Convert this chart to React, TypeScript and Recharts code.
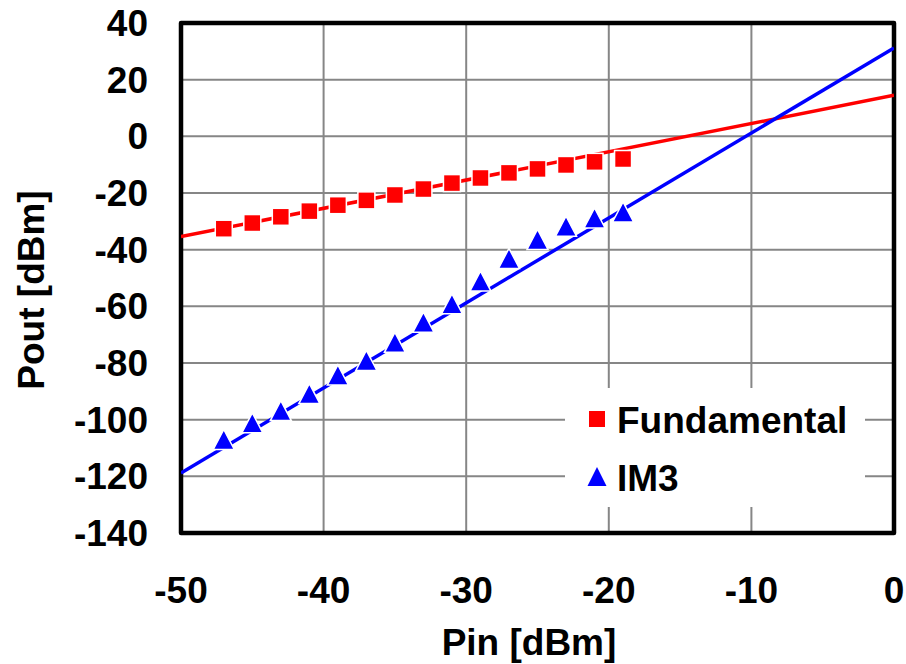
import React from 'react';
import {
  ScatterChart,
  Scatter,
  XAxis,
  YAxis,
  CartesianGrid,
  ReferenceArea,
  Legend,
  Label,
} from 'recharts';

// ---- data ----
const pinValues = [-47, -45, -43, -41, -39, -37, -35, -33, -31, -29, -27, -25, -23, -21, -19];
const fundamentalValues = [-32.6, -30.6, -28.4, -26.4, -24.3, -22.6, -20.7, -18.6, -16.5, -14.7, -12.9, -11.5, -10.1, -9.0, -8.0];
const im3Values = [-107.0, -101.1, -96.8, -90.8, -84.2, -79.1, -72.7, -65.6, -59.1, -51.1, -43.1, -36.4, -31.7, -28.8, -26.7];

const trendX = [-50, 0];
const fundamentalTrend = [-35.4, 14.5];
const im3Trend = [-118.8, 31.2];

const xTicks = [-50, -40, -30, -20, -10, 0];
const yTicks = [-140, -120, -100, -80, -60, -40, -20, 0, 20, 40];

const fundamentalData = pinValues.map((x, i) => ({ x, y: fundamentalValues[i] }));
const im3Data = pinValues.map((x, i) => ({ x, y: im3Values[i] }));
const fundamentalTrendData = trendX.map((x, i) => ({ x, y: fundamentalTrend[i] }));
const im3TrendData = trendX.map((x, i) => ({ x, y: im3Trend[i] }));

const FONT = '"Liberation Sans", Arial, sans-serif';
const RED = '#ff0000';
const BLUE = '#0000ff';

const SquareMarker = (props: any) => {
  const { cx, cy } = props;
  if (cx == null || cy == null) return <g />;
  const s = 17;
  return <rect x={cx - s / 2} y={cy - s / 2} width={s} height={s} fill={RED} stroke="#ffffff" strokeWidth={1.5} />;
};

const TriangleMarker = (props: any) => {
  const { cx, cy } = props;
  if (cx == null || cy == null) return <g />;
  const hw = 10.5;
  const hh = 10;
  return (
    <polygon
      points={`${cx},${cy - hh} ${cx - hw},${cy + hh} ${cx + hw},${cy + hh}`}
      fill={BLUE}
      stroke="#ffffff"
      strokeWidth={1.5}
    />
  );
};

const NoMarker = () => <g />;

const LegendContent = (props: any) => {
  const payload = (props.payload || []).filter((p: any) => p.type !== 'none');
  return (
    <svg width={300} height={119} style={{ display: 'block' }}>
      <rect x={0} y={0} width={300} height={119} fill="#ffffff" />
      {payload.map((p: any, i: number) => {
        const baseY = 45 + i * 58;
        const cy = baseY - 14;
        return (
          <g key={i}>
            {p.type === 'triangle' ? (
              <polygon points={`32,${cy - 10} 22.5,${cy + 9} 41.5,${cy + 9}`} fill={p.color} />
            ) : (
              <rect x={24} y={cy - 8} width={16} height={16} fill={p.color} />
            )}
            <text x={52} y={baseY} fontFamily={FONT} fontWeight="bold" fontSize={37} fill="#000">
              {p.value}
            </text>
          </g>
        );
      })}
    </svg>
  );
};

const tickStyle = { fontFamily: FONT, fontWeight: 'bold', fontSize: 37, fill: '#000' } as any;

export default function App() {
  return (
    <div style={{ position: 'absolute', left: 0, top: 0, width: 906, height: 664, background: '#fff' }}>
      <ScatterChart width={906} height={664} margin={{ top: 23, right: 12, bottom: 0, left: 0 }}>
        <CartesianGrid stroke="#868686" strokeWidth={2} />
        <XAxis
          type="number"
          dataKey="x"
          domain={[-50, 0]}
          ticks={xTicks}
          allowDataOverflow
          height={131}
          axisLine={false}
          tickLine={false}
          tickSize={0}
          tickMargin={44}
          tick={tickStyle}
          interval={0}
        >
          <Label
            content={() => (
              <text x={529} y={655} textAnchor="middle" fontFamily={FONT} fontWeight="bold" fontSize={37} fill="#000">
                Pin [dBm]
              </text>
            )}
          />
        </XAxis>
        <YAxis
          type="number"
          dataKey="y"
          domain={[-140, 40]}
          ticks={yTicks}
          allowDataOverflow
          width={181}
          axisLine={false}
          tickLine={false}
          tickSize={0}
          tickMargin={33}
          tick={tickStyle}
          interval={0}
        >
          <Label
            content={() => (
              <text
                x={44}
                y={290}
                transform="rotate(-90 44 290)"
                textAnchor="middle"
                fontFamily={FONT}
                fontWeight="bold"
                fontSize={37}
                fill="#000"
              >
                Pout [dBm]
              </text>
            )}
          />
        </YAxis>
        <Scatter
          name="Fundamental trend"
          data={fundamentalTrendData}
          line={{ stroke: RED, strokeWidth: 3.5 }}
          lineType="joint"
          shape={NoMarker}
          legendType="none"
          fill={RED}
          isAnimationActive={false}
        />
        <Scatter
          name="IM3 trend"
          data={im3TrendData}
          line={{ stroke: BLUE, strokeWidth: 3.5 }}
          lineType="joint"
          shape={NoMarker}
          legendType="none"
          fill={BLUE}
          isAnimationActive={false}
        />
        <Scatter
          name="Fundamental"
          data={fundamentalData}
          shape={SquareMarker}
          legendType="square"
          fill={RED}
          isAnimationActive={false}
        />
        <Scatter
          name="IM3"
          data={im3Data}
          shape={TriangleMarker}
          legendType="triangle"
          fill={BLUE}
          isAnimationActive={false}
        />
        <ReferenceArea
          x1={-50}
          x2={0}
          y1={-140}
          y2={40}
          fill="none"
          fillOpacity={0}
          stroke="#000"
          strokeWidth={4.5}
          strokeLinejoin="round"
          ifOverflow="visible"
        />
        <Legend
          layout="vertical"
          align="center"
          verticalAlign="middle"
          content={<LegendContent />}
          wrapperStyle={{ position: 'absolute', left: 565, top: 388, width: 300, height: 119, margin: 0, padding: 0 }}
        />
      </ScatterChart>
    </div>
  );
}
